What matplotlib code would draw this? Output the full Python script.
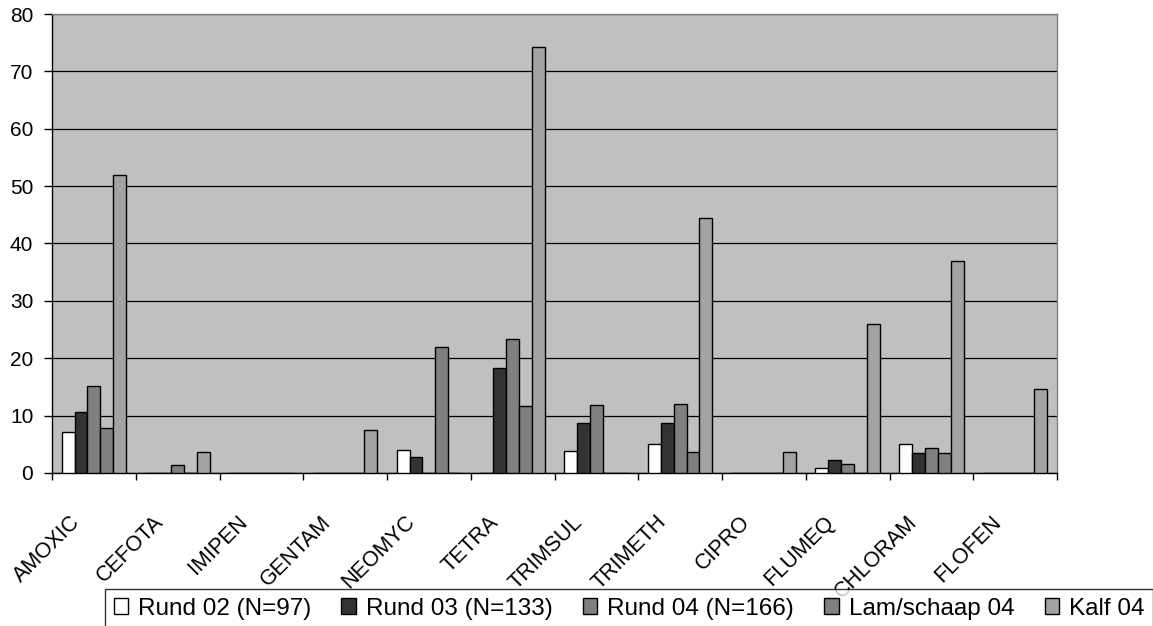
import matplotlib

matplotlib.use("Agg")
import matplotlib.pyplot as plt
import numpy as np
from matplotlib.transforms import ScaledTranslation

plt.rcParams["font.family"] = ["Liberation Sans", "DejaVu Sans"]

categories = ["AMOXIC", "CEFOTA", "IMIPEN", "GENTAM", "NEOMYC", "TETRA",
              "TRIMSUL", "TRIMETH", "CIPRO", "FLUMEQ", "CHLORAM", "FLOFEN"]
series_names = ["Rund 02 (N=97)", "Rund 03 (N=133)", "Rund 04 (N=166)",
                "Lam/schaap 04", "Kalf 04"]
rund02 = [7.1, 0, 0, 0, 4.0, 0, 3.9, 5.0, 0, 0.8, 5.0, 0]
rund03 = [10.6, 0, 0, 0, 2.8, 18.3, 8.8, 8.8, 0, 2.2, 3.5, 0]
rund04 = [15.2, 1.4, 0, 0, 0, 23.4, 11.9, 12.0, 0, 1.5, 4.3, 0]
lam04 = [7.8, 0, 0, 0, 22.0, 11.6, 0, 3.6, 0, 0, 3.5, 0]
kalf04 = [52.0, 3.7, 0, 7.5, 0, 74.2, 0, 44.4, 3.7, 26.0, 37.0, 14.7]
yticks = [0, 10, 20, 30, 40, 50, 60, 70, 80]

colors = ["#FFFFFF", "#333333", "#808080", "#808080", "#A3A3A3"]
series = [rund02, rund03, rund04, lam04, kalf04]

fig = plt.figure(figsize=(11.53, 6.26), dpi=100)
ax = fig.add_axes([52 / 1153, 1 - 473 / 626, 1005 / 1153, 459 / 626])
ax.set_facecolor("#C0C0C0")

x = np.arange(len(categories))
w = 1 / 6.5
handles = []
for i, (vals, c, name) in enumerate(zip(series, colors, series_names)):
    h = ax.bar(x + (i - 2) * w, vals, w, color=c, edgecolor="black",
               linewidth=1.0, label=name, zorder=3)
    handles.append(h)

ax.set_xlim(-0.5, len(categories) - 0.5)
ax.set_ylim(0, 80)
ax.set_yticks(yticks)
ax.set_yticklabels([str(v) for v in yticks], fontsize=15)
ax.yaxis.grid(True, color="black", linewidth=0.9, zorder=1)
ax.set_axisbelow(True)

# boundaries carry the tick marks, centres carry the labels
ax.set_xticks(np.arange(len(categories) + 1) - 0.5)
ax.set_xticklabels([])
ax.set_xticks(x, minor=True)
ax.set_xticklabels(categories, minor=True, fontsize=15.5, rotation=45,
                   ha="right", va="center", rotation_mode="anchor")
ax.tick_params(axis="x", which="major", direction="out", length=5, width=1, color="black")
ax.tick_params(axis="x", which="minor", length=0, pad=0)
ax.tick_params(axis="y", direction="out", length=6, width=1, pad=7.5, color="black")
off = ScaledTranslation(-0.17, -0.46, fig.dpi_scale_trans)
for lab in ax.get_xticklabels(minor=True):
    lab.set_transform(lab.get_transform() + off)

for s in ["left", "bottom"]:
    ax.spines[s].set_color("black")
    ax.spines[s].set_linewidth(1.0)
for s in ["top", "right"]:
    ax.spines[s].set_color("#808080")
    ax.spines[s].set_linewidth(1.0)

leg = fig.legend(handles=handles, loc="upper left",
                 bbox_to_anchor=(105 / 1153, 1 - 589 / 626),
                 bbox_transform=fig.transFigure, ncol=5, fontsize=17.5,
                 frameon=True, fancybox=False, borderaxespad=0, borderpad=0.35,
                 handlelength=0.6, handleheight=0.6, handletextpad=0.4,
                 columnspacing=1.25)
leg.get_frame().set_edgecolor("black")
leg.get_frame().set_linewidth(1.0)

fig.savefig("out.png", dpi=100)
